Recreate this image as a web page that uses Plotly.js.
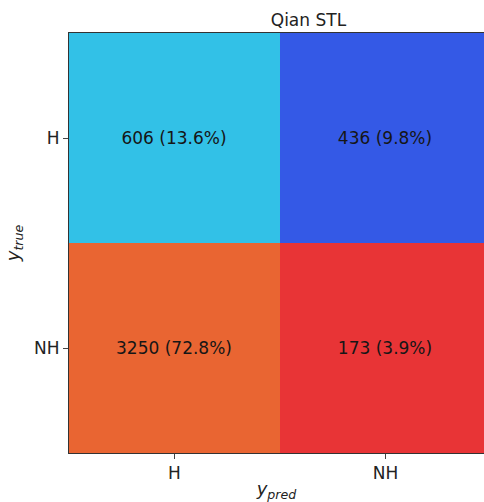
<!DOCTYPE html>
<html>
<head>
<meta charset="utf-8">
<script src="https://cdn.plot.ly/plotly-3.0.1.min.js"></script>
<style>html,body{margin:0;padding:0;background:#fff;}#chart{width:484px;height:502px;}</style>
</head>
<body>
<div id="chart"></div>
<script>
// Data
var predLabels = ["H", "NH"];
var trueLabels = ["H", "NH"];
var counts = [
  [606, 436],
  [3250, 173]
];
var cellColors = [
  ["#32C1E7", "#3459E6"],
  ["#E96532", "#E83436"]
];

var total = 0;
counts.forEach(function (r) { r.forEach(function (v) { total += v; }); });

var flatColors = [];
var z = [];
var text = [];
counts.forEach(function (row, i) {
  var zr = [], tr = [];
  row.forEach(function (v, j) {
    var idx = flatColors.length;
    flatColors.push(cellColors[i][j]);
    zr.push(idx);
    tr.push(v + " (" + (100 * v / total).toFixed(1) + "%)");
  });
  z.push(zr);
  text.push(tr);
});
var n = flatColors.length;
var colorscale = [];
flatColors.forEach(function (c, k) {
  colorscale.push([k / n, c]);
  colorscale.push([(k + 1) / n, c]);
});

var trace = {
  type: "heatmap",
  x: predLabels,
  y: trueLabels,
  z: z,
  zmin: -0.5,
  zmax: n - 0.5,
  colorscale: colorscale,
  showscale: false,
  text: text,
  texttemplate: "%{text}",
  textfont: {family: "DejaVu Sans", size: 17, color: "#161616"},
  hoverinfo: "skip",
  xgap: 0, ygap: 0
};

var axisFont = {family: "DejaVu Sans", size: 17, color: "#222"};
var layout = {
  width: 484,
  height: 502,
  margin: {l: 69, r: 0, t: 33, b: 49},
  paper_bgcolor: "#fff",
  plot_bgcolor: "#fff",
  title: {
    text: "Qian STL",
    font: {family: "DejaVu Sans", size: 17, color: "#222"},
    x: 0.577, xanchor: "center", xref: "paper",
    y: 0.96, yanchor: "middle", yref: "container"
  },
  xaxis: {
    type: "category",
    range: [-0.5, 1.467],
    ticks: "outside", ticklen: 5, tickcolor: "#444", tickwidth: 1,
    tickfont: axisFont,
    showline: true, mirror: true, linecolor: "#333", linewidth: 1,
    showgrid: false, zeroline: false,
    title: {text: "<i>y</i><sub><i>pred</i></sub>", font: {family: "DejaVu Sans", size: 18, color: "#222"}, standoff: 6}
  },
  yaxis: {
    type: "category",
    range: [1.5, -0.5],
    ticks: "outside", ticklen: 5, tickcolor: "#444", tickwidth: 1,
    tickfont: axisFont,
    showline: true, mirror: true, linecolor: "#333", linewidth: 1,
    showgrid: false, zeroline: false,
    title: {text: "<i>y</i><sub><i>true</i></sub>", font: {family: "DejaVu Sans", size: 18, color: "#222"}, standoff: 9}
  }
};

Plotly.newPlot("chart", [trace], layout, {displayModeBar: false, staticPlot: true});
</script>
</body>
</html>
